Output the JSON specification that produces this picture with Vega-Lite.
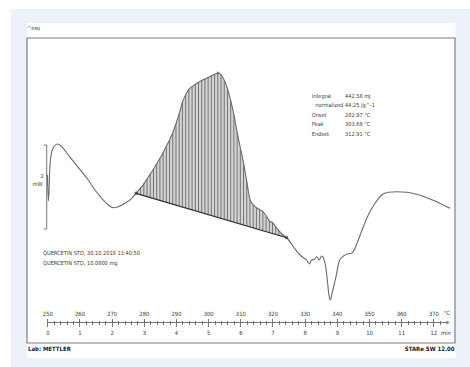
{
  "$schema": "https://vega.github.io/schema/vega-lite/v6.json",
  "width": 428,
  "height": 305,
  "autosize": {"type": "none"},
  "padding": {"left": 27, "top": 38, "right": 15, "bottom": 24},
  "background": "#ffffff",
  "view": {"stroke": null},
  "config": {
    "text": {"font": "DejaVu Sans Condensed, Liberation Sans Narrow, sans-serif", "color": "#3a3a3a", "fontSize": 5.6}
  },
  "data": {"values": [{}]},
  "datasets": {
    "curve": [
      {"temp": 250.06, "hf": 4.000},
      {"temp": 250.31, "hf": 3.381},
      {"temp": 250.53, "hf": 3.595},
      {"temp": 250.78, "hf": 4.167},
      {"temp": 251.37, "hf": 4.548},
      {"temp": 252.08, "hf": 4.679},
      {"temp": 253.17, "hf": 4.738},
      {"temp": 254.48, "hf": 4.674},
      {"temp": 256.53, "hf": 4.476},
      {"temp": 258.61, "hf": 4.279},
      {"temp": 260.69, "hf": 4.079},
      {"temp": 262.74, "hf": 3.881},
      {"temp": 264.83, "hf": 3.643},
      {"temp": 266.91, "hf": 3.445},
      {"temp": 268.96, "hf": 3.286},
      {"temp": 270.52, "hf": 3.221},
      {"temp": 272.07, "hf": 3.245},
      {"temp": 274.15, "hf": 3.326},
      {"temp": 276.24, "hf": 3.445},
      {"temp": 277.57, "hf": 3.564, "base": 3.564},
      {"temp": 278, "hf": 3.602, "base": 3.555},
      {"temp": 279, "hf": 3.693, "base": 3.532},
      {"temp": 280, "hf": 3.790, "base": 3.510},
      {"temp": 281, "hf": 3.906, "base": 3.487},
      {"temp": 282, "hf": 4.021, "base": 3.464},
      {"temp": 283, "hf": 4.138, "base": 3.442},
      {"temp": 284, "hf": 4.269, "base": 3.419},
      {"temp": 285, "hf": 4.398, "base": 3.397},
      {"temp": 286, "hf": 4.529, "base": 3.374},
      {"temp": 287, "hf": 4.683, "base": 3.351},
      {"temp": 288, "hf": 4.836, "base": 3.329},
      {"temp": 289, "hf": 5.005, "base": 3.306},
      {"temp": 290, "hf": 5.221, "base": 3.284},
      {"temp": 291, "hf": 5.460, "base": 3.261},
      {"temp": 292, "hf": 5.736, "base": 3.239},
      {"temp": 293, "hf": 5.912, "base": 3.216},
      {"temp": 294, "hf": 6.040, "base": 3.194},
      {"temp": 295, "hf": 6.100, "base": 3.171},
      {"temp": 296, "hf": 6.160, "base": 3.148},
      {"temp": 297, "hf": 6.208, "base": 3.126},
      {"temp": 298, "hf": 6.248, "base": 3.103},
      {"temp": 299, "hf": 6.286, "base": 3.081},
      {"temp": 300, "hf": 6.324, "base": 3.058},
      {"temp": 301, "hf": 6.362, "base": 3.036},
      {"temp": 302, "hf": 6.400, "base": 3.013},
      {"temp": 303, "hf": 6.424, "base": 2.990},
      {"temp": 304, "hf": 6.388, "base": 2.968},
      {"temp": 305, "hf": 6.257, "base": 2.945},
      {"temp": 306, "hf": 6.057, "base": 2.923},
      {"temp": 307, "hf": 5.769, "base": 2.900},
      {"temp": 308, "hf": 5.433, "base": 2.878},
      {"temp": 309, "hf": 5.021, "base": 2.855},
      {"temp": 310, "hf": 4.650, "base": 2.833},
      {"temp": 311, "hf": 4.283, "base": 2.810},
      {"temp": 312, "hf": 3.843, "base": 2.787},
      {"temp": 313, "hf": 3.410, "base": 2.765},
      {"temp": 314, "hf": 3.298, "base": 2.742},
      {"temp": 315, "hf": 3.219, "base": 2.720},
      {"temp": 316, "hf": 3.176, "base": 2.697},
      {"temp": 317, "hf": 3.129, "base": 2.675},
      {"temp": 318, "hf": 3.036, "base": 2.652},
      {"temp": 319, "hf": 2.910, "base": 2.629},
      {"temp": 320, "hf": 2.864, "base": 2.607},
      {"temp": 321, "hf": 2.767, "base": 2.584},
      {"temp": 322, "hf": 2.669, "base": 2.562},
      {"temp": 323, "hf": 2.593, "base": 2.539},
      {"temp": 324, "hf": 2.531, "base": 2.517},
      {"temp": 324.42, "hf": 2.507, "base": 2.507},
      {"temp": 326.47, "hf": 2.293},
      {"temp": 328.55, "hf": 2.095},
      {"temp": 329.58, "hf": 2.031},
      {"temp": 330.63, "hf": 1.976},
      {"temp": 331.44, "hf": 1.881},
      {"temp": 332.19, "hf": 1.976},
      {"temp": 333.00, "hf": 1.993},
      {"temp": 333.74, "hf": 2.055},
      {"temp": 334.46, "hf": 1.976},
      {"temp": 335.30, "hf": 2.071},
      {"temp": 335.80, "hf": 2.031},
      {"temp": 336.54, "hf": 1.817},
      {"temp": 337.04, "hf": 1.500},
      {"temp": 337.47, "hf": 1.183},
      {"temp": 337.97, "hf": 1.024},
      {"temp": 338.50, "hf": 1.183},
      {"temp": 339.12, "hf": 1.381},
      {"temp": 339.96, "hf": 1.660},
      {"temp": 340.67, "hf": 1.936},
      {"temp": 341.82, "hf": 2.055},
      {"temp": 343.07, "hf": 2.112},
      {"temp": 344.62, "hf": 2.136},
      {"temp": 345.65, "hf": 2.255},
      {"temp": 346.67, "hf": 2.452},
      {"temp": 348.23, "hf": 2.769},
      {"temp": 349.78, "hf": 3.048},
      {"temp": 351.87, "hf": 3.326},
      {"temp": 353.95, "hf": 3.524},
      {"temp": 356.00, "hf": 3.588},
      {"temp": 358.61, "hf": 3.602},
      {"temp": 361.72, "hf": 3.588},
      {"temp": 364.83, "hf": 3.540},
      {"temp": 367.94, "hf": 3.460},
      {"temp": 371.04, "hf": 3.364},
      {"temp": 375.18, "hf": 3.207}
    ],
    "limits": [
      {"temp": 277.57, "hf": 3.564},
      {"temp": 324.42, "hf": 2.507}
    ]
  },
  "layer": [
    {
      "description": "page background",
      "mark": {"type": "rect", "fill": "#edf1f9"},
      "encoding": {
        "x": {"datum": 238.72, "type": "quantitative", "scale": {"domain": [243.69, 376.73], "nice": false, "zero": false}, "axis": null},
        "x2": {"datum": 381.5},
        "y": {"datum": 7.952, "type": "quantitative", "scale": {"domain": [0, 7.262], "nice": false, "zero": false}, "axis": null},
        "y2": {"datum": -0.6}
      }
    },
    {
      "description": "white report panel",
      "mark": {"type": "rect", "fill": "#ffffff"},
      "encoding": {
        "x": {"datum": 243.69, "type": "quantitative", "axis": null},
        "x2": {"datum": 376.9},
        "y": {"datum": 7.619, "type": "quantitative", "axis": null},
        "y2": {"datum": -0.357}
      }
    },
    {
      "description": "plot frame",
      "mark": {"type": "rect", "fill": null, "stroke": "#7d7d7d", "strokeWidth": 1.2},
      "encoding": {
        "x": {"datum": 243.69, "type": "quantitative", "axis": null},
        "x2": {"datum": 376.73},
        "y": {"datum": 7.262, "type": "quantitative", "axis": null},
        "y2": {"datum": 0}
      }
    },
    {
      "description": "integrated peak area",
      "data": {"name": "curve"},
      "transform": [{"filter": "isValid(datum.base)"}],
      "mark": {"type": "area", "color": "#d4d4d4", "interpolate": "monotone"},
      "encoding": {
        "x": {"field": "temp", "type": "quantitative", "axis": null},
        "y": {"field": "hf", "type": "quantitative", "axis": null},
        "y2": {"field": "base"}
      }
    },
    {
      "description": "hatching of the integrated area",
      "data": {"name": "curve"},
      "transform": [{"filter": "isValid(datum.base)"}],
      "mark": {"type": "rule", "color": "#5a5a5a", "strokeWidth": 0.8},
      "encoding": {
        "x": {"field": "temp", "type": "quantitative", "axis": null},
        "y": {"field": "hf", "type": "quantitative", "axis": null},
        "y2": {"field": "base"}
      }
    },
    {
      "description": "DSC heat flow curve",
      "data": {"name": "curve"},
      "mark": {"type": "line", "color": "#6a6a6a", "strokeWidth": 1.1, "interpolate": "monotone"},
      "encoding": {
        "x": {
          "field": "temp", "type": "quantitative",
          "axis": {
            "orient": "top", "offset": -284.5, "zindex": 1, "title": null, "domain": false, "grid": false,
            "values": [250,252,254,256,258,260,262,264,266,268,270,272,274,276,278,280,282,284,286,288,290,292,294,296,298,300,302,304,306,308,310,312,314,316,318,320,322,324,326,328,330,332,334,336,338,340,342,344,346,348,350,352,354,356,358,360,362,364,366,368,370,372],
            "labelExpr": "datum.value % 10 === 0 ? datum.label : ''",
            "labelOverlap": false, "labelFlush": false,
            "labelFont": "DejaVu Sans Condensed, Liberation Sans Narrow, sans-serif",
            "labelFontSize": 5.8, "labelColor": "#3a3a3a", "labelPadding": 2,
            "tickColor": "#555555", "tickWidth": 0.8,
            "tickSize": {"condition": {"test": "datum.value % 10 === 0", "value": 4}, "value": 2}
          }
        },
        "y": {"field": "hf", "type": "quantitative", "axis": null}
      }
    },
    {
      "description": "time axis line",
      "mark": {"type": "rule", "color": "#555555", "strokeWidth": 0.8},
      "encoding": {
        "x": {
          "datum": 250, "type": "quantitative",
          "axis": {
            "orient": "bottom", "offset": -20.5, "zindex": 1, "title": null, "domain": false, "grid": false,
            "values": [250,252,254,256,258,260,262,264,266,268,270,272,274,276,278,280,282,284,286,288,290,292,294,296,298,300,302,304,306,308,310,312,314,316,318,320,322,324,326,328,330,332,334,336,338,340,342,344,346,348,350,352,354,356,358,360,362,364,366,368,370,372],
            "labelExpr": "datum.value % 10 === 0 ? format((datum.value - 250) / 10, 'd') : ''",
            "labelOverlap": false, "labelFlush": false,
            "labelFont": "DejaVu Sans Condensed, Liberation Sans Narrow, sans-serif",
            "labelFontSize": 5.8, "labelColor": "#3a3a3a", "labelPadding": 3,
            "tickColor": "#555555", "tickWidth": 0.8,
            "tickSize": {"condition": {"test": "datum.value % 10 === 0", "value": 4}, "value": 2}
          }
        },
        "x2": {"datum": 374.56},
        "y": {"datum": 0.488, "type": "quantitative", "axis": null}
      }
    },
    {
      "description": "axis arrow head",
      "mark": {"type": "point", "shape": "triangle-right", "size": 10, "filled": false, "color": "#555555", "strokeWidth": 0.8},
      "encoding": {
        "x": {"datum": 374.56, "type": "quantitative", "axis": null},
        "y": {"datum": 0.488, "type": "quantitative", "axis": null}
      }
    },
    {
      "description": "integration baseline",
      "data": {"name": "limits"},
      "mark": {"type": "line", "color": "#2e2e2e", "strokeWidth": 1.2},
      "encoding": {
        "x": {"field": "temp", "type": "quantitative", "axis": null},
        "y": {"field": "hf", "type": "quantitative", "axis": null}
      }
    },
    {
      "description": "integration limits",
      "data": {"name": "limits"},
      "mark": {"type": "point", "shape": "cross", "angle": 45, "size": 14, "filled": true, "color": "#333333"},
      "encoding": {
        "x": {"field": "temp", "type": "quantitative", "axis": null},
        "y": {"field": "hf", "type": "quantitative", "axis": null}
      }
    },
    {
      "description": "peak marker",
      "mark": {"type": "point", "shape": "cross", "angle": 45, "size": 10, "filled": true, "color": "#555555"},
      "encoding": {
        "x": {"datum": 303.1, "type": "quantitative", "axis": null},
        "y": {"datum": 6.43, "type": "quantitative", "axis": null}
      }
    },
    {
      "description": "2 mW scale bar",
      "mark": {"type": "rule", "color": "#666666", "strokeWidth": 0.9},
      "encoding": {
        "x": {"datum": 249.81, "type": "quantitative", "axis": null},
        "y": {"datum": 4.714, "type": "quantitative", "axis": null},
        "y2": {"datum": 2.714}
      }
    },
    {
      "mark": {"type": "rule", "color": "#666666", "strokeWidth": 0.9},
      "encoding": {
        "x": {"datum": 248.9, "type": "quantitative", "axis": null},
        "x2": {"datum": 249.81},
        "y": {"datum": 4.714, "type": "quantitative", "axis": null}
      }
    },
    {
      "mark": {"type": "rule", "color": "#666666", "strokeWidth": 0.9},
      "encoding": {
        "x": {"datum": 248.9, "type": "quantitative", "axis": null},
        "x2": {"datum": 249.81},
        "y": {"datum": 2.714, "type": "quantitative", "axis": null}
      }
    },
    {
      "mark": {"type": "text", "text": "2", "align": "center", "baseline": "middle"},
      "encoding": {
        "x": {"datum": 248.35, "type": "quantitative", "axis": null},
        "y": {"datum": 3.976, "type": "quantitative", "axis": null}
      }
    },
    {
      "mark": {"type": "text", "text": "mW", "align": "center", "baseline": "middle"},
      "encoding": {
        "x": {"datum": 246.95, "type": "quantitative", "axis": null},
        "y": {"datum": 3.786, "type": "quantitative", "axis": null}
      }
    },
    {
      "mark": {"type": "text", "text": "^exo", "align": "left", "baseline": "middle"},
      "encoding": {
        "x": {"datum": 243.69, "type": "quantitative", "axis": null},
        "y": {"datum": 7.5, "type": "quantitative", "axis": null}
      }
    },
    {
      "description": "sample information",
      "mark": {"type": "text", "text": ["QUERCETIN STD, 30.10.2018 13:40:50", "QUERCETIN STD, 10.0800 mg"], "lineHeight": 10, "align": "left", "baseline": "middle"},
      "encoding": {
        "x": {"datum": 248.66, "type": "quantitative", "axis": null},
        "y": {"datum": 2.143, "type": "quantitative", "axis": null}
      }
    },
    {
      "description": "integration results, names",
      "mark": {"type": "text", "text": "Integral", "align": "left", "baseline": "middle"},
      "encoding": {
        "x": {"datum": 332.19, "type": "quantitative", "axis": null},
        "y": {"datum": 5.889, "type": "quantitative", "axis": null}
      }
    },
    {
      "mark": {"type": "text", "text": "normalized", "align": "left", "baseline": "middle"},
      "encoding": {
        "x": {"datum": 333.3, "type": "quantitative", "axis": null},
        "y": {"datum": 5.655, "type": "quantitative", "axis": null}
      }
    },
    {
      "mark": {"type": "text", "text": ["Onset", "Peak", "Endset"], "lineHeight": 9.5, "align": "left", "baseline": "middle"},
      "encoding": {
        "x": {"datum": 332.19, "type": "quantitative", "axis": null},
        "y": {"datum": 5.429, "type": "quantitative", "axis": null}
      }
    },
    {
      "description": "integration results, values",
      "mark": {"type": "text", "text": ["442.58 mJ", "44.25 Jg^-1", "282.97 °C", "303.68 °C", "312.91 °C"], "lineHeight": 9.5, "align": "left", "baseline": "middle"},
      "encoding": {
        "x": {"datum": 342.54, "type": "quantitative", "axis": null},
        "y": {"datum": 5.889, "type": "quantitative", "axis": null}
      }
    },
    {
      "mark": {"type": "text", "text": "°C", "fontSize": 5.8, "align": "center", "baseline": "middle"},
      "encoding": {
        "x": {"datum": 374.15, "type": "quantitative", "axis": null},
        "y": {"datum": 0.721, "type": "quantitative", "axis": null}
      }
    },
    {
      "mark": {"type": "text", "text": "min", "fontSize": 5.8, "align": "center", "baseline": "middle"},
      "encoding": {
        "x": {"datum": 373.9, "type": "quantitative", "axis": null},
        "y": {"datum": 0.231, "type": "quantitative", "axis": null}
      }
    },
    {
      "mark": {"type": "text", "text": "Lab: METTLER", "fontSize": 6, "fontWeight": "bold", "color": "#1a1a1a", "align": "left", "baseline": "middle"},
      "encoding": {
        "x": {"datum": 244.0, "type": "quantitative", "axis": null},
        "y": {"datum": -0.143, "type": "quantitative", "axis": null}
      }
    },
    {
      "mark": {"type": "text", "text": "STARe SW 12.00", "fontSize": 6, "fontWeight": "bold", "color": "#1a1a1a", "align": "right", "baseline": "middle"},
      "encoding": {
        "x": {"datum": 376.6, "type": "quantitative", "axis": null},
        "y": {"datum": -0.143, "type": "quantitative", "axis": null}
      }
    }
  ],
  "resolve": {"axis": {"x": "independent"}}
}
